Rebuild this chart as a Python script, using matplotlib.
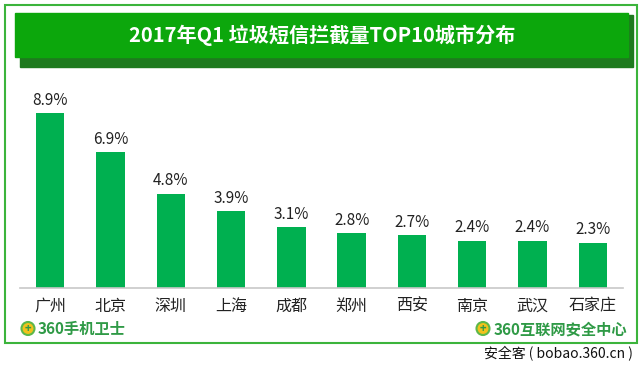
import matplotlib.pyplot as plt
from matplotlib.patches import Rectangle, Ellipse

plt.rcParams['font.family'] = ['Noto Sans CJK SC', 'DejaVu Sans']

cities = ['广州', '北京', '深圳', '上海', '成都', '郑州', '西安', '南京', '武汉', '石家庄']
shares = [8.9, 6.9, 4.8, 3.9, 3.1, 2.8, 2.7, 2.4, 2.4, 2.3]
title = '2017年Q1 垃圾短信拦截量TOP10城市分布'

W, H = 642, 371
fig = plt.figure(figsize=(W / 100, H / 100), dpi=100)
fig.patch.set_facecolor('white')


def px(x, y, w, h):
    # pixel box (from top-left) -> figure fraction
    return [x / W, 1 - (y + h) / H, w / W, h / H]


# outer green frame
fig.patches.append(Rectangle((4.5 / W, 1 - 343 / H), 632 / W, 338.5 / H,
                             transform=fig.transFigure, fill=False,
                             edgecolor='#3CB43C', linewidth=1.5))

# title banner with shadow
fig.patches.append(Rectangle((20 / W, 1 - 67 / H), 613 / W, 52 / H,
                             transform=fig.transFigure, color='#1E7A1E', zorder=1))
fig.patches.append(Rectangle((15 / W, 1 - 57 / H), 613 / W, 44 / H,
                             transform=fig.transFigure, color='#0CA70C', zorder=2))
fig.text(322 / W, 1 - 35 / H, title, color='white', fontsize=14.5,
         fontweight='bold', ha='center', va='center', zorder=3)

# bar chart
ax = fig.add_axes(px(20, 91.4, 603, 196.6))
x = range(len(cities))
ax.bar(x, shares, width=0.47, color='#00B050')
for i, v in zip(x, shares):
    ax.text(i, v + 0.22, f'{v}%', ha='center', va='bottom', fontsize=11,
            color='#222222')
ax.set_xlim(-0.5, 9.5)
ax.set_ylim(0, 10)
ax.set_xticks(list(x))
ax.set_xticklabels(cities, fontsize=11.5, color='#222222')
ax.tick_params(axis='x', length=0, pad=7)
ax.set_yticks([])
for s in ['top', 'right', 'left']:
    ax.spines[s].set_visible(False)
ax.spines['bottom'].set_color('#C8C8C8')
ax.spines['bottom'].set_linewidth(1.2)

# logos
for cx in (28, 483):
    fig.patches.append(Ellipse((cx / W, 1 - 328.5 / H), 13 / W, 13 / H,
                               transform=fig.transFigure, facecolor='#F2C21B',
                               edgecolor='#5DB84A', linewidth=1.5))
    fig.text(cx / W, 1 - 328.5 / H, '+', color='#2F9A46', fontsize=8,
             fontweight='bold', ha='center', va='center')
fig.text(38 / W, 1 - 329 / H, '360手机卫士', color='#2F9A46', fontsize=11,
         fontweight='bold', ha='left', va='center')
fig.text(494 / W, 1 - 329 / H, '360互联网安全中心', color='#2F9A46', fontsize=11,
         fontweight='bold', ha='left', va='center')

# watermark
fig.text(633 / W, 1 - 354 / H, '安全客 ( bobao.360.cn )', color='#111111',
         fontsize=10, ha='right', va='center')

fig.savefig('out.png', dpi=100)
